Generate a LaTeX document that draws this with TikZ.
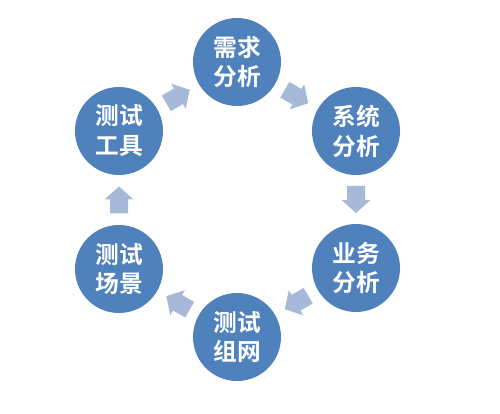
\documentclass[tikz,border=0pt]{standalone}
\usepackage{fontspec}
\newfontfamily\cjk[BoldFont={Noto Sans CJK SC Bold}]{Noto Sans CJK SC}
\usetikzlibrary{calc}
\definecolor{stepblue}{RGB}{79,129,189}
\definecolor{arrowgray}{RGB}{167,185,216}
\tikzset{phase/.style={
        circle, fill=stepblue, minimum size=1.76cm, inner sep=0pt,
        text=white, align=center,
        font=\cjk\bfseries\fontsize{13.5}{17}\selectfont
    },
    blockarrow/.pic={
        \fill[arrowgray] (-0.27,-0.18) -- (0.01,-0.18) -- (0.01,-0.29) -- (0.27,0)
            -- (0.01,0.29) -- (0.01,0.18) -- (-0.27,0.18) -- cycle;
    }
}

\begin{document}
\begin{tikzpicture}
      \useasboundingbox (0,0) rectangle (10,8.26);
      \node[phase] (xuqiu) at (4.74, 7.02) {需求\\分析};
      \node[phase] (xitong) at (7.12, 5.64) {系统\\分析};
      \node[phase] (yewu) at (7.12, 2.90) {业务\\分析};
      \node[phase] (zuwang) at (4.74, 1.52) {测试\\组网};
      \node[phase] (changjing) at (2.38, 2.88) {测试\\场景};
      \node[phase] (gongju) at (2.38, 5.64) {测试\\工具};
      \foreach \a/\b in {gongju/xuqiu, xuqiu/xitong, xitong/yewu, yewu/zuwang, zuwang/changjing, changjing/gongju}
        \path let \p1 = ($(\b)-(\a)$), \n1 = {atan2(\y1,\x1)} in
          pic[rotate=\n1] at ($(\a)!0.5!(\b)$) {blockarrow};
    \end{tikzpicture}
\end{document}
